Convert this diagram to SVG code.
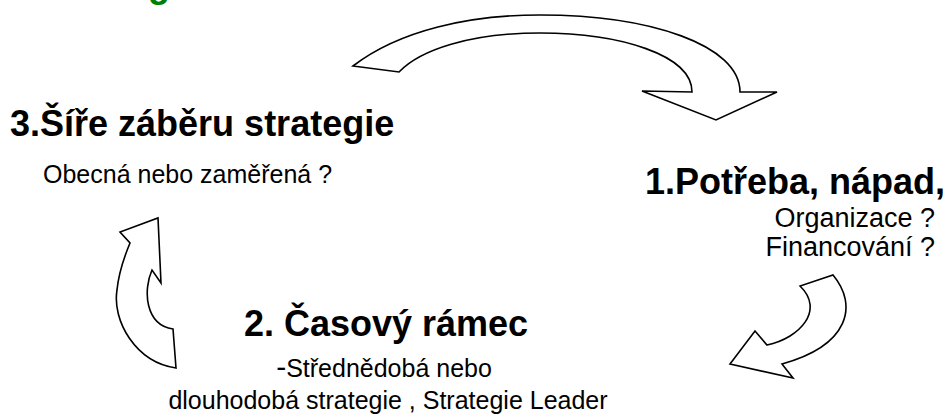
<svg xmlns="http://www.w3.org/2000/svg" width="952" height="420" viewBox="0 0 952 420">
<style>
.arrow{fill:#fff;stroke:#000;stroke-width:1.6;stroke-linejoin:miter}
.h{font-family:"Liberation Sans",Arial,sans-serif;font-weight:bold;font-size:36px;fill:#000}
.b{font-family:"Liberation Sans",Arial,sans-serif;font-size:25px;fill:#000}
</style>
<rect width="952" height="420" fill="#fff"/>
<text x="148" y="-3" font-family="Liberation Sans, Arial, sans-serif" font-weight="bold" font-size="36" fill="#008000">g</text>
<g id="connectors">
<path class="arrow" d="M353,66 C400,30 470,15 540,15 C650,15 740,45 740,92 L777,92 L716,120 L642,91 L692,92 C692,55 620,33 540,33 C470,33 420,50 399,72 Z"/>
<path class="arrow" d="M833,275 C858,305 850,345 782,364 L793,378 L730,364 L755,331 L767,345 C800,338 825,310 800,286 Z"/>
<path class="arrow" d="M176,368 C135,362 112,320 117,290 C119,270 125,255 130,243 L120,232 L158,218 L161,283 L152,270 C143,290 145,325 173,329 Z"/>
</g>
<g id="node3">
<text class="h" x="10" y="136">3.Šíře záběru strategie</text>
<text class="b" x="43" y="183" font-size="26">Obecná nebo zaměřená ?</text>
</g>
<g id="node1">
<text class="h" x="645" y="194">1.Potřeba, nápad,</text>
<text class="b" x="935" y="227" text-anchor="end" style="font-size:27px">Organizace ?</text>
<text class="b" x="935" y="256" text-anchor="end" style="font-size:27px">Financování ?</text>
</g>
<g id="node2">
<text class="h" x="386" y="336" text-anchor="middle">2. Časový rámec</text>
<text class="b" x="384" y="377" text-anchor="middle"><tspan font-size="30">-</tspan>Střednědobá nebo</text>
<text class="b" x="388" y="409" text-anchor="middle">dlouhodobá strategie , Strategie Leader</text>
</g>
</svg>
